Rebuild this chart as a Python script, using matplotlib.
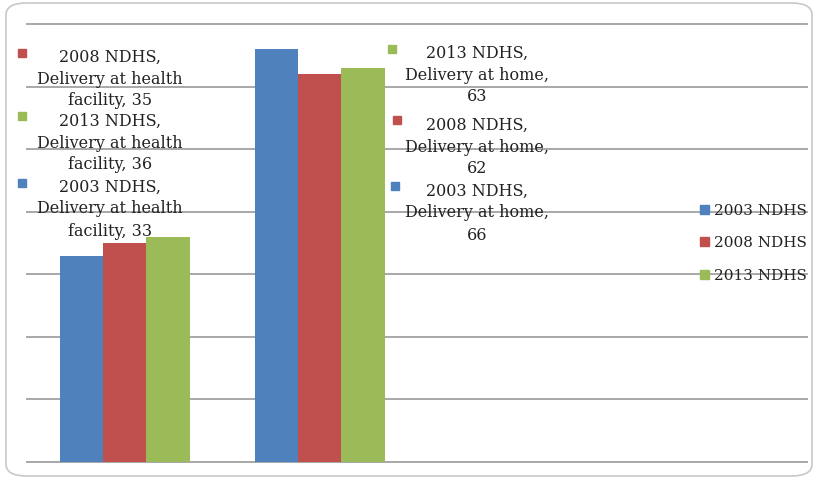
import matplotlib
matplotlib.use("Agg")
import matplotlib.pyplot as plt
from matplotlib.patches import FancyBboxPatch, Rectangle
import textwrap
import numpy as np

# ---- data ----
categories = ["Delivery at health facility", "Delivery at home"]
series = ["2003 NDHS", "2008 NDHS", "2013 NDHS"]
values_2003 = [33, 66]
values_2008 = [35, 62]
values_2013 = [36, 63]
colors = ["#4F81BD", "#C0504D", "#9BBB59"]
values = [values_2003, values_2008, values_2013]

W, H = 818, 481
fig = plt.figure(figsize=(W / 100, H / 100), dpi=100)
fig.patch.set_facecolor("white")

# rounded frame
frame = FancyBboxPatch((6 / W, 4 / H), (W - 12) / W, (H - 8) / H,
                       boxstyle="round,pad=0,rounding_size=0.025",
                       transform=fig.transFigure, facecolor="none",
                       edgecolor="#c8c8c8", linewidth=1.2, zorder=-1)
fig.patches.append(frame)

ax = fig.add_axes([27 / W, (H - 463) / H, (807 - 27) / W, (463 - 25) / H])
ax.set_facecolor("none")
n_slots = 4  # plot area holds four category slots; two are empty
x = np.arange(len(categories))
bw = 1 / 4.5
for i, (s, v, c) in enumerate(zip(series, values, colors)):
    ax.bar(x + (i - 1) * bw, v, width=bw, color=c, zorder=2, label=s)
ax.set_xlim(-0.5, n_slots - 0.5)
ax.set_ylim(0, 70)
ax.set_yticks(np.arange(0, 71, 10))
ax.yaxis.grid(True, color="#a8a8a8", linewidth=1.4, zorder=0)
for gl in ax.get_ygridlines():
    gl.set_clip_on(False)
ax.set_axisbelow(True)
ax.tick_params(left=False, bottom=False, labelleft=False, labelbottom=False)
for sp in ax.spines.values():
    sp.set_visible(False)

font = ["DejaVu Serif"]

# data label blocks: (series index, category index, key x, key y, text center x, first line y)
label_layout = [
    (1, 0, 22, 54, 110, 57),
    (2, 0, 22, 117, 110, 121),
    (0, 0, 22, 184, 110, 187),
    (2, 1, 392, 50, 477, 53),
    (1, 1, 397, 121, 477, 125),
    (0, 1, 395, 187, 477, 191),
]
line_h = 22
for si, ci, kx, ky, tx, ty in label_layout:
    txt = textwrap.fill(f"{series[si]}, {categories[ci]}, {values[si][ci]}", 18)
    fig.patches.append(Rectangle(((kx - 4) / W, 1 - (ky + 4) / H), 8 / W, 8 / H,
                                 transform=fig.transFigure, color=colors[si]))
    for k, line in enumerate(txt.split("\n")):
        fig.text(tx / W, 1 - (ty + k * line_h) / H, line, ha="center", va="center",
                 fontsize=11.5, family=font, color="#222222")

# legend
leg_y = [211, 243, 276]
for i, s in enumerate(series):
    fig.patches.append(Rectangle((700 / W, 1 - (leg_y[i] + 4) / H), 9 / W, 9 / H,
                                 transform=fig.transFigure, color=colors[i]))
    fig.text(714 / W, 1 - leg_y[i] / H, s, ha="left", va="center",
             fontsize=11, family=font, color="#222222")

fig.savefig("out.png", dpi=100)
